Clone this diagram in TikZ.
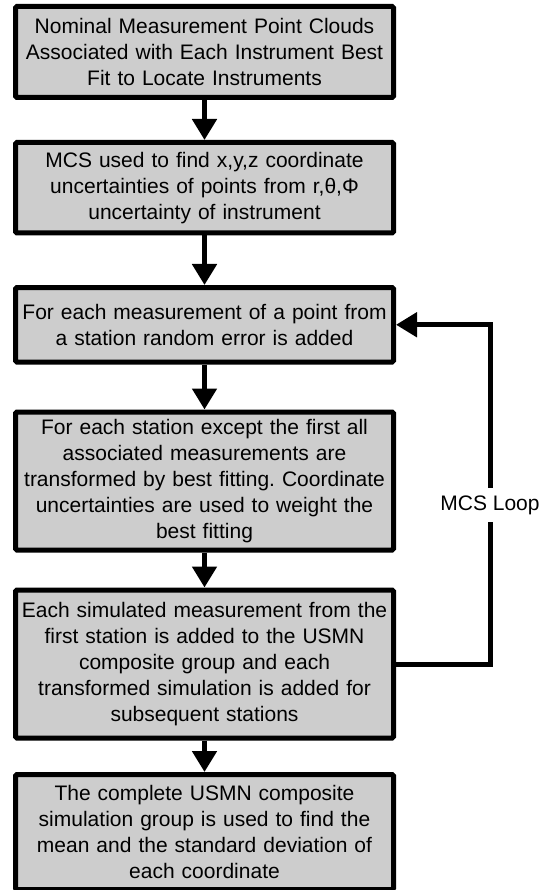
\documentclass[tikz,border=0pt]{standalone}
\usepackage{fontspec}
\setmainfont{Liberation Sans}
\usetikzlibrary{arrows.meta}
\definecolor{boxgray}{RGB}{205,205,205}
\frenchspacing
\begin{document}
\begin{tikzpicture}[x=1pt,y=1pt,
  box/.style={draw=black, line width=5pt, fill=boxgray, rounded corners=1.5pt,
    minimum width=378pt, text width=372pt, align=center, inner sep=0pt,
    font=\fontsize{21}{26}\selectfont},
  flow/.style={line width=5pt, -{Triangle[length=21pt,width=24pt]}},
  looplabel/.style={fill=white, inner xsep=1pt, inner ysep=7pt, font=\fontsize{21}{26}\selectfont}]
\useasboundingbox (0,0) rectangle (551,-890);
\node[box, minimum height=91pt] (b1) at (204.5,-52)
  {Nominal Measurement Point Clouds\\Associated with Each Instrument Best\\Fit to Locate Instruments};
\node[box, minimum height=90.5pt] (b2) at (204.5,-187.75)
  {MCS used to find x,y,z coordinate\\uncertainties of points from r,θ,Φ\\uncertainty of instrument};
\node[box, minimum height=74.5pt] (b3) at (204.5,-324.75)
  {For each measurement of a point from\\a station random error is added};
\node[box, minimum height=138pt] (b4) at (204.5,-481)
  {For each station except the first all\\associated measurements are\\transformed by best fitting. Coordinate\\uncertainties are used to weight the\\best fitting};
\node[box, minimum height=148pt] (b5) at (204.5,-664)
  {Each simulated measurement from the\\first station is added to the USMN\\composite group and each\\transformed simulation is added for\\subsequent stations};
\node[box, minimum height=115pt] (b6) at (204.5,-832)
  {The complete USMN composite\\simulation group is used to find the\\mean and the standard deviation of\\each coordinate};
\coordinate (lx) at (490,0);
\draw[flow] (b1) -- (b2);
\draw[flow] (b2) -- (b3);
\draw[flow] (b3) -- (b4);
\draw[flow] (b4) -- (b5);
\draw[flow] (b5) -- (b6);
\draw[flow] (b5.east) -- (b5.east -| lx) -- (b3.east -| lx) -- (b3.east);
\node[looplabel] (ml) at (490,-505) {MCS Loop};
\end{tikzpicture}
\end{document}
